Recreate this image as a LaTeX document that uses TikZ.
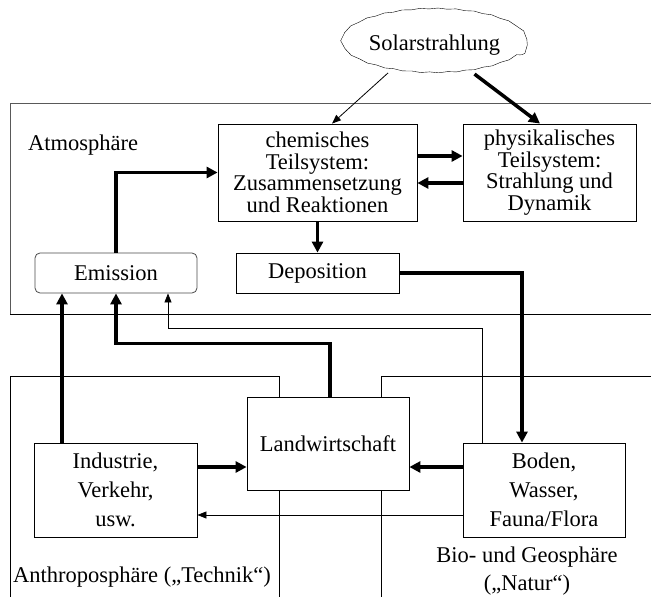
\documentclass[tikz,border=0pt]{standalone}
\usepackage{fontspec}
\setmainfont{Liberation Serif}
\usetikzlibrary{arrows.meta,shapes.geometric,decorations.pathmorphing}
\begin{document}
\begin{tikzpicture}[x=1bp,y=-1bp,
  box/.style={draw,fill=white,inner sep=0pt,align=center,line width=0.8bp,
    font=\fontsize{22.5bp}{21.5bp}\selectfont},
  lowbox/.style={box,font=\fontsize{22.5bp}{29bp}\selectfont},
  thickarr/.style={line width=3.5bp,-{Triangle[length=11bp,width=11bp]}},
  thinarr/.style={line width=0.8bp,-{Triangle[length=9bp,width=7bp]}},
  region/.style={line width=0.8bp},
  lbl/.style={inner sep=0pt,font=\fontsize{22.5bp}{28bp}\selectfont}]
\useasboundingbox (0,0) rectangle (651,597);
\fill[white] (0,0) rectangle (651,597);
% regions
\draw[region,black!65] (651,103) -- (10,103) -- (10,314);
\draw[region] (10,314) -- (651,314);
\draw[region] (10,597) -- (10,376) -- (279,376) -- (279,597);
\draw[region] (651,376) -- (381,376) -- (381,597);
% labels
\node[lbl,anchor=west] (atm) at (28,145) {Atmosphäre};
\node[lbl,anchor=west] (anth) at (13,577) {Anthroposphäre („Technik“)};
\node[lbl,align=center] (bio) at (527,571) {Bio- und Geosphäre\\(„Natur“)};
% nodes
\node[draw,ellipse,fill=white,minimum width=179bp,minimum height=64bp,inner sep=0pt,
  decorate,decoration={snake,amplitude=0.45bp,segment length=18bp},
  font=\fontsize{22.5bp}{21bp}\selectfont] (solar) at (434.5,45) {Solarstrahlung};
\node[box,minimum width=199bp,minimum height=97bp] (chem) at (317.5,172.5)
  {chemisches\\Teilsystem:\\Zusammensetzung\\und Reaktionen};
\node[box,minimum width=173bp,minimum height=97bp] (phys) at (549.5,172.5)
  {physikalisches\\Teilsystem:\\Strahlung und\\Dynamik};
\node[box,rounded corners=5bp,draw=black!70,minimum width=162bp,minimum height=40bp] (emis) at (116,273) {Emission};
\node[box,minimum width=163bp,minimum height=40bp] (depo) at (317.5,273) {Deposition};
\node[box,minimum width=162bp,minimum height=93bp] (landw) at (328,443.5) {Landwirtschaft};
\node[lowbox,minimum width=163bp,minimum height=94bp] (indu) at (115.5,490) {Industrie,\\Verkehr,\\usw.};
\node[lowbox,minimum width=162bp,minimum height=94bp] (boden) at (544,490) {Boden,\\Wasser,\\Fauna/Flora};
% connectors
\draw[thinarr] (solar.211) -- ([xshift=14.5bp]chem.north);
\draw[thickarr] (solar.324) -- ([xshift=-9.5bp]phys.north);
\draw[thickarr] ([yshift=16.5bp]chem.east) -- ([yshift=16.5bp]phys.west);
\draw[thickarr] ([yshift=-10.5bp]phys.west) -- ([yshift=-10.5bp]chem.east);
\draw[thickarr] (chem.south) -- (depo.north);
\draw[thickarr] (emis.north) |- (chem.west);
\draw[thickarr] (depo.east) -| ([xshift=-22bp]boden.north);
\draw[thickarr] ([xshift=-53.5bp]indu.north) -- ([xshift=-54bp]emis.south);
\draw[thickarr] ([xshift=2bp]landw.north) -- ++(0,-53) -| (emis.south);
\draw[thinarr] ([xshift=-62bp]boden.north) -- ++(0,-114) -| ([xshift=52bp]emis.south);
\draw[thickarr] ([yshift=23bp]indu.east) -- ([yshift=23bp]indu.east -| landw.west);
\draw[thickarr] ([yshift=23bp]boden.west) -- ([yshift=23bp]boden.west -| landw.east);
\draw[thinarr] ([yshift=-25bp]boden.west) -- ([yshift=-25bp]boden.west -| indu.east);
\end{tikzpicture}
\end{document}
